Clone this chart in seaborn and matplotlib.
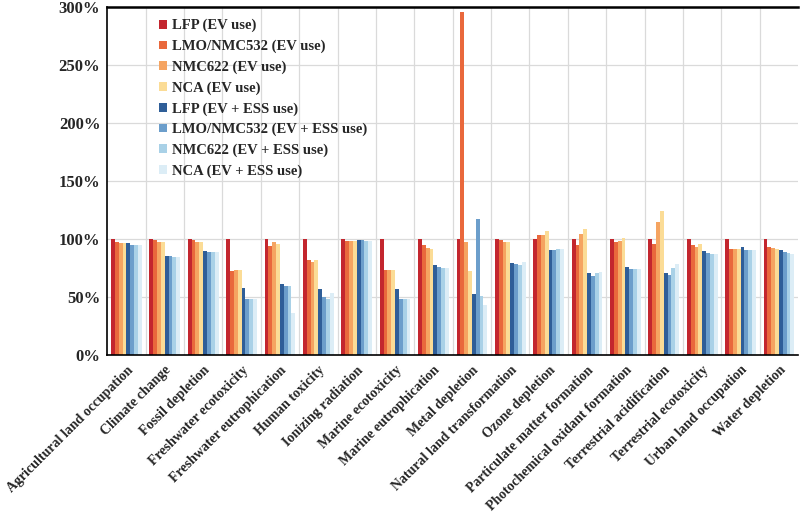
import pandas as pd
import matplotlib.pyplot as plt
import seaborn as sns
from matplotlib.ticker import FuncFormatter, FixedLocator

# Impact categories (x axis)
categories = [
    "Agricultural land occupation", "Climate change", "Fossil depletion",
    "Freshwater ecotoxicity", "Freshwater eutrophication", "Human toxicity",
    "Ionizing radiation", "Marine ecotoxicity", "Marine eutrophication",
    "Metal depletion", "Natural land transformation", "Ozone depletion",
    "Particulate matter formation", "Photochemical oxidant formation",
    "Terrestrial acidification", "Terrestrial ecotoxicity",
    "Urban land occupation", "Water depletion",
]

series_names = [
    "LFP (EV use)", "LMO/NMC532 (EV use)", "NMC622 (EV use)", "NCA (EV use)",
    "LFP (EV + ESS use)", "LMO/NMC532 (EV + ESS use)",
    "NMC622 (EV + ESS use)", "NCA (EV + ESS use)",
]

# values in % relative to LFP (EV use)
lfp_ev = [100] * 18
lmo_ev = [97.7, 98.9, 98.9, 72.7, 94.3, 81.6, 98, 73.6, 95, 296, 98.9, 103.2, 94.8, 97.2, 95.4, 94.8, 91.4, 93.4]
nmc_ev = [96.8, 97.5, 97.1, 73.6, 97.4, 80.7, 98, 73.6, 92.3, 97.2, 97.1, 103.7, 104, 98.3, 115, 93.4, 91.4, 92.5]
nca_ev = [96.8, 97.7, 97.1, 73.6, 96, 81.9, 98, 73.6, 91.8, 72.7, 97.7, 106.9, 109, 100.6, 124.3, 95.4, 91.4, 91.4]
lfp_ess = [96.3, 85.6, 89.7, 57.8, 61.6, 56.9, 99.4, 57.2, 77.6, 53.1, 79, 90.8, 71, 75.6, 71.2, 89.4, 93.4, 90.2]
lmo_ess = [95.1, 85.6, 89.1, 48.8, 59.3, 49.7, 98.9, 48, 76.1, 117.4, 78.2, 90.8, 68.4, 74.3, 69.2, 87.9, 90.8, 88.5]
nmc_ess = [95.1, 84.2, 88.5, 48.8, 59.9, 48.8, 98.6, 48, 75.3, 51, 77.8, 91.4, 70.7, 74, 75.4, 87.4, 90.5, 88.2]
nca_ess = [94.8, 85, 88.5, 48.6, 36, 53.4, 98.6, 48.6, 74.8, 43, 79.9, 91.7, 71.3, 74.2, 78.6, 86.8, 90.5, 87.6]

colors = ["#c3262e", "#e9683c", "#f5a461", "#fbdc96",
          "#2f5e98", "#6c9ecb", "#a9d1e7", "#dcedf6"]

all_series = [lfp_ev, lmo_ev, nmc_ev, nca_ev, lfp_ess, lmo_ess, nmc_ess, nca_ess]
rows = []
for name, vals in zip(series_names, all_series):
    for cat, v in zip(categories, vals):
        rows.append({"category": cat, "series": name, "value": v})
df = pd.DataFrame(rows)

sns.set_style("white")
plt.rcParams["font.family"] = ["Liberation Serif", "DejaVu Serif"]
plt.rcParams["font.weight"] = "bold"

fig = plt.figure(figsize=(8, 5.2), dpi=100)
ax = fig.add_axes([0.134, 0.317, 0.8637, 0.6695])

sns.barplot(data=df, x="category", y="value", hue="series",
            hue_order=series_names, order=categories,
            palette=colors, width=0.8, ax=ax, saturation=1, linewidth=0)

ax.set_ylim(0, 300)
ax.set_xlim(-0.5, len(categories) - 0.5)
ax.set_yticks(range(0, 301, 50))
ax.yaxis.set_major_formatter(FuncFormatter(lambda v, p: f"{int(v)}%"))
ax.tick_params(axis="y", length=0, labelsize=12, pad=5)

# x ticks at the group boundaries, labels at the group centres
ax.set_xticks(range(len(categories)))
ax.set_xticklabels(categories, rotation=45, ha="right",
                   rotation_mode="anchor", fontsize=10, fontweight="bold")
ax.tick_params(axis="x", which="major", length=0, pad=6)
bounds = [i - 0.5 for i in range(len(categories) + 1)]
ax.xaxis.set_minor_locator(FixedLocator(bounds))
ax.tick_params(axis="x", which="minor", direction="inout", length=6, width=1.2, color="black")

for y in range(50, 301, 50):
    ax.axhline(y, color="#dadada", lw=0.9, zorder=0)
for b in bounds[1:-1]:
    ax.axvline(b, color="#dadada", lw=0.9, zorder=0)

for side in ["left", "bottom"]:
    ax.spines[side].set_color("black")
    ax.spines[side].set_linewidth(1.2)
ax.spines["top"].set_color("black")
ax.spines["top"].set_linewidth(1.8)
ax.spines["right"].set_visible(False)

ax.set_xlabel("")
ax.set_ylabel("")
for lbl in ax.get_yticklabels():
    lbl.set_fontweight("bold")

ax.legend(loc="upper left", bbox_to_anchor=(0.06, 0.995), frameon=False,
          fontsize=10.5, handlelength=0.55, handleheight=0.55,
          handletextpad=0.35, labelspacing=0.5, borderaxespad=0.3)
for t in ax.get_legend().get_texts():
    t.set_fontweight("bold")

fig.savefig("out.png", dpi=100)
